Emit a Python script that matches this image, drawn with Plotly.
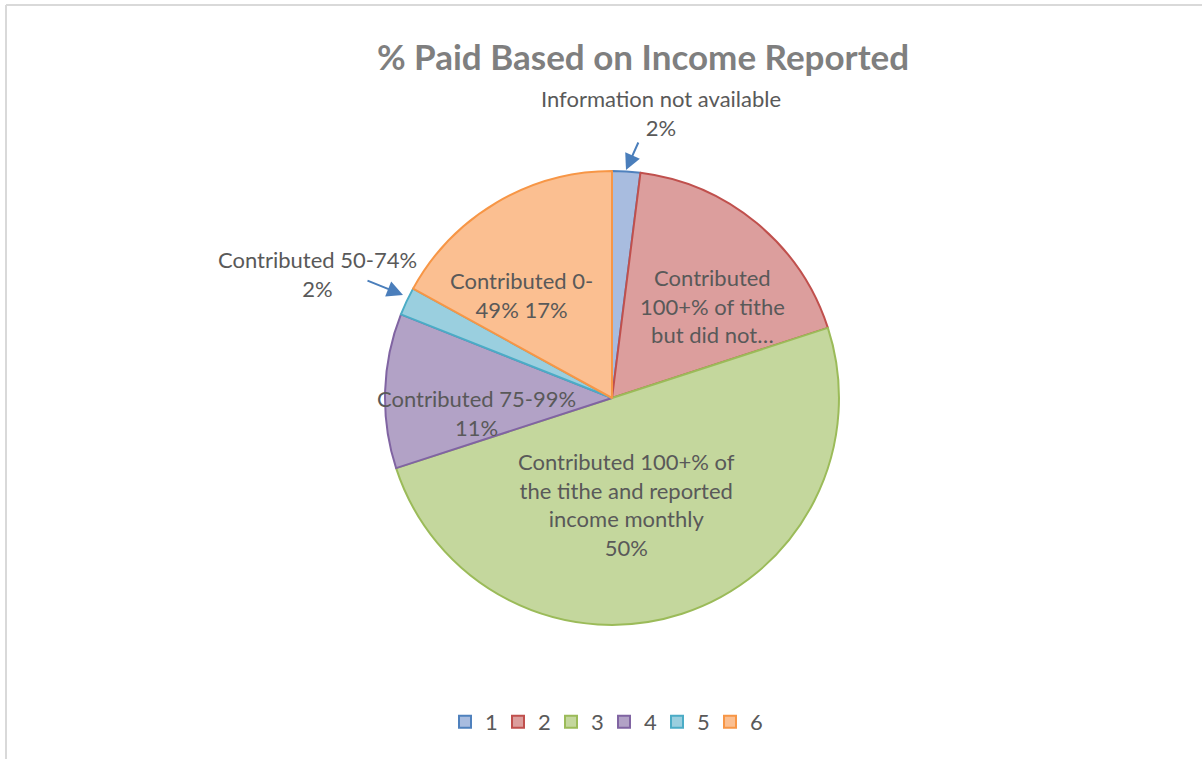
import plotly.graph_objects as go

# ---- data ----
categories = ["1", "2", "3", "4", "5", "6"]
values = [2, 18, 50, 11, 2, 17]
slice_labels = [
    "Information not available<br>2%",
    "Contributed<br>100+% of tithe<br>but did not…",
    "Contributed 100+% of<br>the tithe and reported<br>income monthly<br>50%",
    "Contributed 75-99%<br>11%",
    "Contributed 50-74%<br>2%",
    "Contributed 0-<br>49% 17%",
]
fill_colors = ["#a8bcdf", "#dc9e9d", "#c4d79d", "#b2a2c6", "#9acfdf", "#fbbf91"]
line_colors = ["#4f81bd", "#c0504d", "#9bbb59", "#8064a2", "#4bacc6", "#f79646"]

W, H = 1202, 759
FONT = "Lato"
TXT = "#595959"

cx, cy, r = 612, 398, 227

def px(x):
    return x / W

def py(y):
    return 1 - y / H

fig = go.Figure(go.Pie(
    labels=categories,
    values=values,
    sort=False,
    direction="clockwise",
    rotation=0,
    textinfo="none",
    hoverinfo="label+percent",
    marker=dict(colors=fill_colors, line=dict(color=line_colors, width=2)),
    domain=dict(x=[px(cx - r), px(cx + r)], y=[py(cy + r), py(cy - r)]),
))

# label positions (pixel centres)
label_pos = [
    (661, 113),
    (712, 306),
    (626, 504),
    (476, 413),
    (317, 274),
    (521, 295),
]
annotations = []
for txt, (x, y) in zip(slice_labels, label_pos):
    annotations.append(dict(
        x=px(x), y=py(y), xref="paper", yref="paper",
        text=txt, showarrow=False, xanchor="center", yanchor="middle",
        font=dict(family=FONT, size=22, color=TXT),
    ))

# leader arrows for the small outside labels
arrows = [((626, 170), (639, 141)), ((403, 295), (366, 280))]
for (hx, hy), (tx, ty) in arrows:
    annotations.append(dict(
        x=px(hx), y=py(hy), xref="paper", yref="paper",
        ax=tx - hx, ay=ty - hy, axref="pixel", ayref="pixel",
        text="", showarrow=True, arrowhead=2, arrowsize=1.6, arrowwidth=2,
        arrowcolor="#4a7ebb",
    ))

fig.update_layout(
    width=W, height=H,
    margin=dict(l=0, r=0, t=0, b=0),
    paper_bgcolor="white",
    title=dict(
        text="<b>% Paid Based on Income Reported</b>",
        x=643 / W, xanchor="center", y=py(58), yanchor="middle",
        font=dict(family=FONT, size=35, color="#7f7f7f"),
    ),
    showlegend=True,
    legend=dict(
        orientation="h", x=604 / W, xanchor="center", y=py(722), yanchor="middle",
        font=dict(family=FONT, size=22, color=TXT),
        itemwidth=30, traceorder="normal",
        entrywidth=8, entrywidthmode="pixels",
    ),
    annotations=annotations,
    shapes=[
        dict(type="line", xref="paper", yref="paper", x0=px(6), x1=1, y0=py(5), y1=py(5),
             line=dict(color="#d9d9d9", width=2)),
        dict(type="line", xref="paper", yref="paper", x0=px(6), x1=px(6), y0=py(5), y1=0,
             line=dict(color="#d9d9d9", width=2)),
    ],
)

fig.write_html("out.html", config={"displayModeBar": False},
               post_script="document.body.style.margin='0';document.body.style.overflow='hidden';")
